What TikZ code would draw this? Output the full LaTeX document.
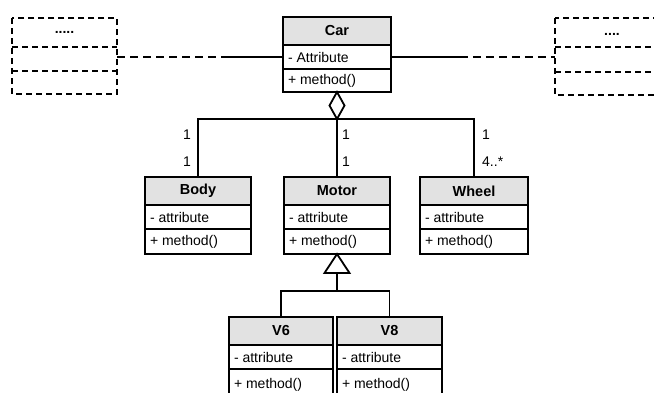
\documentclass[tikz,border=0pt]{standalone}
\usepackage{fontspec}
\setmainfont{Liberation Sans}
\usetikzlibrary{shapes.geometric,calc}
\definecolor{hdrgray}{HTML}{E2E2E2}
\newcommand{\umlclass}[8]{%
  \node[hdr, minimum width=#4pt, anchor=north west] (#1) at (#2,#3) {#5};
  \node[rowa, minimum width=#4pt, anchor=north west] (#1a) at (#1.south west) {\hbox to \dimexpr#4pt-10pt\relax{#6\hfil}};
  \node[rowa, minimum height=#8pt, minimum width=#4pt, anchor=north west] (#1m) at (#1a.south west) {\hbox to \dimexpr#4pt-10pt\relax{#7\hfil}};
}
\begin{document}
\begin{tikzpicture}[x=1pt,y=-1pt,
  txt/.style={font=\fontsize{14}{16}\selectfont},
  hdr/.style={draw, line width=1.8pt, fill=hdrgray, font=\fontsize{14.5}{16}\selectfont\bfseries, inner sep=0pt, minimum height=28pt, outer sep=0pt},
  rowa/.style={draw, line width=1.8pt, inner xsep=5pt, inner ysep=0pt, minimum height=24pt, font=\fontsize{14}{16}\selectfont, outer sep=0pt},
  drow/.style={inner sep=0pt, outer sep=0pt, anchor=north west},
  dline/.style={line width=1.4pt, dash pattern=on 6pt off 4pt},
  conn/.style={line width=1.8pt},
  dconn/.style={line width=1.4pt, dash pattern=on 8pt off 5pt},
  mult/.style={txt, inner sep=0pt},
]
\useasboundingbox (0,0) rectangle (654,392);

% dashed side boxes (left)
\node[drow, minimum width=105pt, minimum height=29pt, font=\fontsize{14}{16}\selectfont\bfseries] (lb1) at (12,18) {.....};
\node[drow, minimum width=105pt, minimum height=24pt] (lb2) at (lb1.south west) {};
\node[drow, minimum width=105pt, minimum height=23pt] (lb3) at (lb2.south west) {};
\draw[dline] (lb1.north west) rectangle (lb3.south east);
\draw[dline] (lb1.south west) -- (lb1.south east);
\draw[dline] (lb2.south west) -- (lb2.south east);

% dashed side box (right)
\node[drow, minimum width=125pt, minimum height=29pt] (rb1) at (555,18) {};
\node[drow, minimum width=125pt, minimum height=25pt] (rb2) at (rb1.south west) {};
\node[drow, minimum width=125pt, minimum height=23pt] (rb3) at (rb2.south west) {};
\draw[dline] (rb1.north west) rectangle (rb3.south east);
\draw[dline] (rb1.south west) -- (rb1.south east);
\draw[dline] (rb2.south west) -- (rb2.south east);
\node[txt, font=\fontsize{14}{16}\selectfont\bfseries, inner sep=0pt] (rdots) at (612,34) {....};

% classes
\umlclass{car}{283}{17}{108}{Car}{- Attribute}{+ method()}{23}
\umlclass{body}{145}{177}{106}{Body}{- attribute}{+ method()}{25}
\umlclass{motor}{284}{177}{106}{Motor}{- attribute}{+ method()}{25}
\umlclass{wheel}{420}{177}{108}{Wheel}{- attribute}{+ method()}{25}
\umlclass{vsix}{229}{317}{104}{V6}{- attribute}{+ method()}{32}
\umlclass{veight}{337}{317}{105}{V8}{- attribute}{+ method()}{32}

% associations to side boxes
\coordinate (lend) at (lb2.east |- cara.west);
\coordinate (rend) at (rb2.west |- cara.east);
\path (lend) -- coordinate[pos=0.63] (lmid) (cara.west);
\draw[dconn] (lend) -- (lmid);
\draw[conn] (lmid) -- (cara.west);
\path (cara.east) -- coordinate[pos=0.42] (rmid) (rend);
\draw[conn] (cara.east) -- (rmid);
\draw[dconn] (rmid) -- (rend);

% aggregation
\node[diamond, draw, fill=white, line width=1.8pt, minimum width=15pt, minimum height=27pt, inner sep=0pt, outer sep=0pt, anchor=north] (dia) at (carm.south) {};
\draw[conn] (body.north) |- (dia.south) -| (wheel.north);
\draw[conn] (dia.south) -- (dia.south |- motor.north);

% multiplicities
\node[mult] (m1) at (187,135) {1};
\node[mult] (m2) at (187,162) {1};
\node[mult] (m3) at (346,135) {1};
\node[mult] (m4) at (346,162) {1};
\node[mult] (m5) at (486,135) {1};
\node[mult, anchor=west] (m6) at (482,162) {4..*};

% generalization
\draw[conn, fill=white, line join=miter] (motorm.south) -- ++(-12.5,19) -- ++(25,0) -- cycle;
\coordinate (tribase) at ($(motorm.south)+(0,19)$);
\coordinate (gj) at ($(tribase)+(0,18)$);
\draw[conn] (tribase) -- (gj);
\draw[conn] (vsix.north) |- (gj) -| (veight.north);
\end{tikzpicture}
\end{document}
